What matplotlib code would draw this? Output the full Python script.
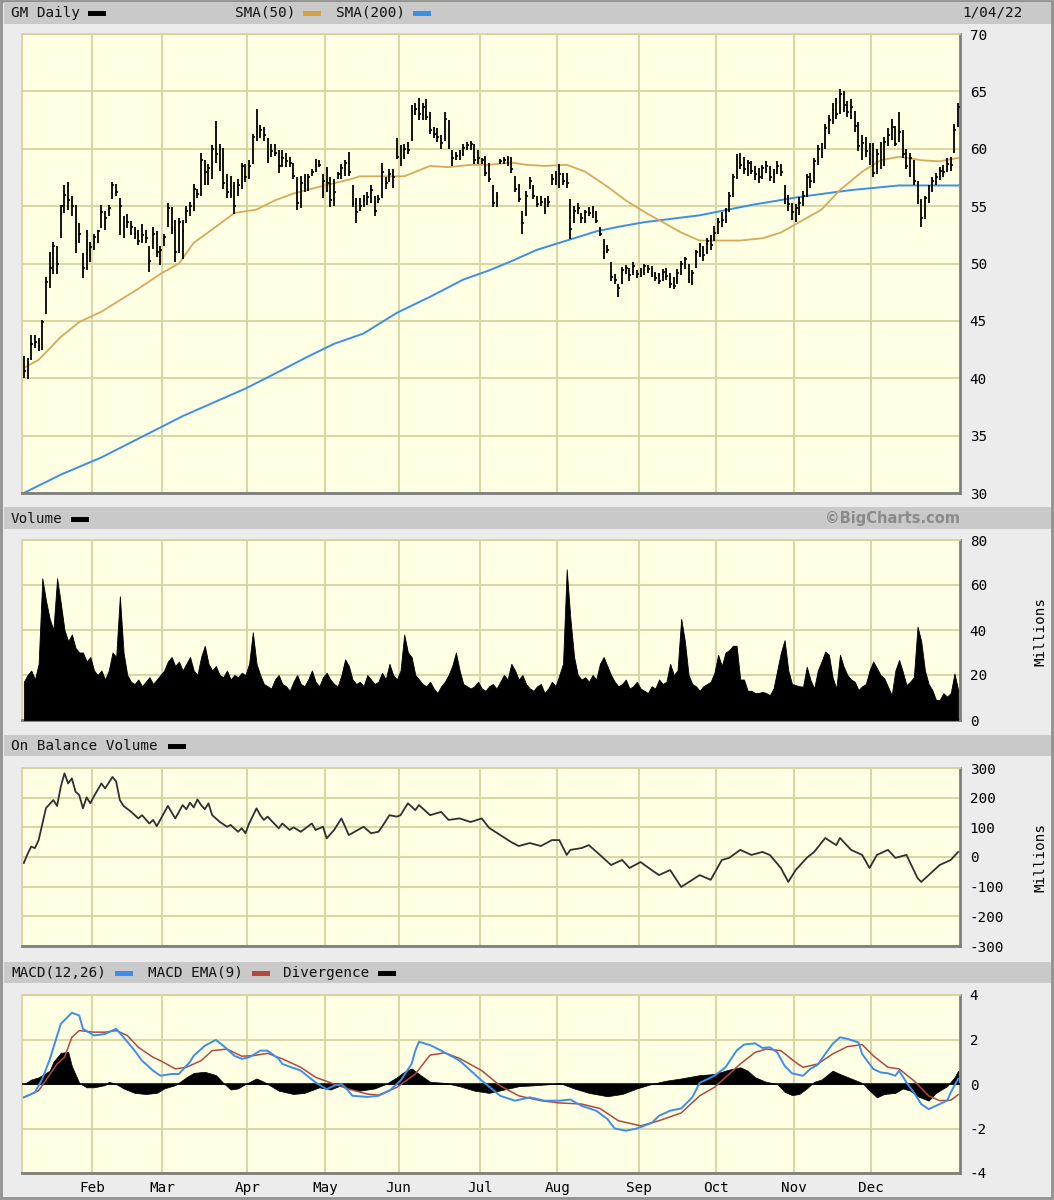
import numpy as np
import pandas as pd
import matplotlib.pyplot as plt
from matplotlib.patches import Rectangle

plt.rcParams['font.family'] = 'DejaVu Sans Mono'
plt.rcParams['axes.unicode_minus'] = False

# trading days shown: 1/04/21 .. 1/04/22
holidays = ["2021-01-18", "2021-02-15", "2021-04-02", "2021-05-31", "2021-07-05",
            "2021-09-06", "2021-11-25", "2021-12-24"]
dates = pd.bdate_range("2021-01-04", "2022-01-04", freq="C", holidays=holidays)

# daily high / low / close, one row per month (Jan21 ... Dec21 + Jan22)
highs = [
    41.9, 41.8, 43.8, 43.8, 43.5, 45.1, 48.8, 51.0, 51.9, 51.5, 55.1, 56.8, 57.1, 55.9, 55.1, 53.5, 50.9, 52.9, 51.9,
    52.6, 52.9, 55.1, 54.6, 55.1, 57.1, 56.9, 55.7, 54.1, 54.3, 53.7, 53.2, 52.9, 53.4, 52.9, 51.5, 53.2, 52.8, 51.5,
    52.6, 55.3, 54.9, 53.8, 54.0, 53.8, 55.0, 55.4, 56.9, 56.5, 59.6, 59.0, 58.7, 60.3, 62.4, 60.4, 60.1, 57.8, 57.6, 57.1, 57.4, 58.8, 58.7,
    59.0, 61.3, 63.5, 62.1, 61.9, 60.9, 60.4, 60.4, 59.9, 59.9, 59.6, 59.3, 58.8, 57.5, 57.6, 57.8, 57.8, 58.2, 59.1, 59.0, 57.8,
    58.4, 57.5, 57.4, 58.0, 58.7, 59.0, 59.7, 56.8, 55.7, 55.7, 56.0, 56.2, 56.8, 55.9, 56.0, 58.8, 57.5, 58.2, 58.2, 60.9,
    60.3, 60.4, 60.6, 63.8, 64.0, 64.4, 64.0, 64.3, 63.2, 61.9, 61.8, 61.2, 63.2, 62.5, 59.9, 59.7, 59.9, 60.4, 60.6, 60.7, 60.4, 59.9,
    59.2, 59.4, 58.8, 56.8, 56.2, 59.1, 59.3, 59.4, 59.3, 57.6, 56.9, 54.6, 56.3, 57.5, 56.8, 55.9, 55.9, 55.7, 55.9, 57.8, 58.1,
    58.7, 57.9, 57.9, 55.6, 55.0, 55.3, 54.4, 54.7, 54.9, 55.0, 54.6, 53.2, 52.1, 51.6, 50.1, 49.1, 48.2, 49.7, 49.9, 49.6, 50.1, 49.4,
    49.6, 50.0, 49.9, 49.8, 49.3, 49.2, 49.5, 49.6, 49.2, 48.8, 49.5, 50.2, 50.6, 50.0, 49.4, 51.2, 51.8, 51.5, 52.2, 52.5, 53.3,
    54.0, 54.5, 54.8, 56.2, 57.8, 59.5, 59.6, 59.3, 59.0, 58.9, 58.5, 58.3, 58.6, 58.9, 58.5, 58.2, 58.9, 58.7, 56.8, 56.0, 55.3,
    55.2, 55.8, 56.3, 57.8, 57.9, 59.2, 60.3, 60.5, 62.2, 62.9, 64.0, 64.4, 65.2, 65.0, 64.2, 64.3, 63.3, 62.3, 61.2, 61.0, 60.5,
    60.5, 60.0, 60.6, 61.0, 61.8, 62.6, 62.0, 63.2, 61.6, 60.0, 59.6, 59.0, 57.2, 55.6, 55.9, 56.8, 57.5, 57.9, 58.4, 58.6, 59.2, 59.3,
    62.2, 64.0,
]
lows = [
    40.0, 39.9, 41.6, 42.6, 42.4, 42.5, 45.6, 47.9, 49.1, 49.1, 52.2, 54.4, 54.7, 54.1, 50.9, 51.8, 48.7, 49.4, 50.1,
    51.2, 51.8, 53.1, 52.9, 54.1, 55.6, 55.9, 52.5, 52.2, 53.1, 52.5, 52.1, 51.6, 51.8, 51.8, 49.3, 51.3, 50.6, 49.9,
    51.5, 53.2, 52.6, 50.1, 50.9, 50.4, 53.5, 54.1, 54.6, 55.7, 55.9, 56.8, 56.8, 57.4, 58.8, 58.1, 56.5, 55.7, 55.7, 54.3, 55.9, 56.5, 57.1,
    57.4, 58.7, 60.7, 60.9, 60.7, 58.8, 59.3, 59.4, 57.9, 58.4, 58.4, 58.4, 57.4, 54.7, 54.8, 56.2, 56.3, 57.6, 58.0, 58.4, 55.7,
    56.2, 54.9, 55.0, 57.4, 57.4, 57.6, 57.6, 54.9, 53.5, 54.6, 54.9, 55.1, 55.3, 54.1, 55.3, 55.7, 56.5, 57.1, 56.6, 59.1,
    58.5, 59.1, 59.5, 60.7, 62.9, 62.5, 62.5, 62.5, 61.3, 60.9, 60.6, 60.0, 60.7, 60.0, 58.5, 59.0, 59.0, 59.4, 59.9, 59.9, 58.7, 58.7,
    58.7, 57.6, 57.1, 54.9, 54.9, 58.7, 58.7, 58.5, 57.9, 56.2, 55.4, 52.6, 54.1, 56.5, 55.6, 54.9, 55.0, 54.3, 54.9, 56.8, 56.8,
    56.6, 56.8, 56.6, 52.1, 53.5, 54.3, 53.5, 53.5, 54.1, 54.0, 53.5, 52.4, 50.4, 50.9, 48.5, 48.2, 47.1, 48.2, 49.1, 48.5, 49.0, 48.7,
    48.8, 49.0, 49.2, 48.8, 48.5, 48.2, 48.5, 48.6, 47.9, 47.8, 48.2, 49.0, 49.5, 48.3, 48.1, 49.6, 50.6, 50.2, 50.8, 51.2, 52.0,
    52.6, 53.2, 53.5, 54.5, 55.8, 57.4, 58.2, 57.8, 57.6, 57.8, 57.3, 57.0, 57.4, 57.9, 57.2, 57.0, 57.8, 57.6, 55.2, 54.6, 53.8,
    53.6, 54.2, 55.0, 55.8, 56.6, 57.0, 58.6, 59.2, 60.0, 61.3, 62.2, 62.6, 63.0, 63.2, 62.8, 62.6, 61.5, 59.8, 59.0, 59.3, 58.6,
    57.5, 57.8, 58.2, 58.5, 60.2, 60.8, 60.2, 60.6, 59.2, 58.2, 57.5, 56.8, 55.2, 53.2, 53.9, 55.3, 56.2, 56.8, 57.3, 57.5, 58.0, 58.1,
    59.6, 61.9,
]
closes = [
    40.6, 41.2, 43.0, 43.2, 42.8, 44.9, 48.4, 49.6, 51.5, 50.0, 55.0, 56.0, 55.5, 55.0, 52.0, 52.6, 49.6, 51.0, 51.4,
    52.3, 52.8, 54.5, 54.0, 54.8, 56.8, 56.2, 55.0, 53.3, 53.6, 53.2, 52.6, 52.0, 52.5, 52.2, 50.2, 52.6, 51.0, 51.2,
    52.3, 54.8, 53.0, 51.0, 53.6, 52.8, 54.6, 55.0, 56.5, 56.1, 59.0, 58.0, 58.3, 60.0, 59.5, 60.0, 57.0, 56.2, 56.0, 55.0, 56.8, 58.5, 57.5,
    58.5, 61.0, 61.5, 61.6, 61.2, 59.2, 59.8, 59.6, 58.5, 59.2, 58.9, 58.8, 57.6, 55.3, 57.0, 56.8, 57.5, 58.0, 58.8, 58.6, 57.2,
    57.0, 55.5, 56.2, 57.8, 58.3, 58.8, 58.0, 55.2, 54.5, 55.0, 55.6, 55.8, 56.4, 54.6, 55.6, 58.0, 57.0, 57.8, 57.5, 59.3,
    59.9, 60.0, 59.9, 63.3, 63.5, 63.0, 63.6, 62.8, 61.6, 61.3, 61.0, 60.5, 62.6, 60.2, 59.2, 59.4, 59.6, 60.1, 60.3, 60.4, 59.0, 59.2,
    59.0, 57.9, 57.4, 55.3, 55.8, 58.9, 59.0, 59.1, 58.2, 56.5, 55.6, 53.5, 55.9, 57.2, 55.9, 55.2, 55.4, 54.6, 55.4, 57.4, 57.6,
    57.8, 57.2, 57.0, 53.0, 54.6, 54.8, 54.0, 54.5, 54.4, 54.6, 53.7, 52.6, 50.6, 51.2, 48.8, 48.6, 47.9, 49.4, 49.6, 49.0, 49.8, 49.1,
    49.3, 49.8, 49.5, 49.0, 48.7, 48.5, 49.3, 48.9, 48.2, 48.0, 49.2, 50.0, 50.4, 48.6, 49.2, 51.0, 51.5, 50.7, 52.0, 51.6, 52.7,
    53.6, 53.8, 54.6, 55.9, 57.5, 59.0, 58.6, 58.2, 58.8, 58.1, 57.8, 57.5, 58.3, 58.5, 57.5, 57.8, 58.5, 58.0, 55.7, 55.2, 54.5,
    54.8, 55.3, 55.9, 57.5, 57.2, 58.9, 60.0, 59.6, 61.8, 62.5, 63.4, 63.0, 64.8, 63.8, 63.2, 63.6, 62.0, 60.2, 60.5, 59.8, 59.0,
    57.9, 59.5, 58.7, 60.6, 61.2, 61.9, 60.4, 61.5, 59.5, 58.5, 59.2, 57.2, 55.9, 54.0, 55.7, 56.5, 57.2, 57.5, 58.1, 58.0, 58.7, 58.6,
    61.6, 63.6,
]

# daily volume, millions
volume = [
    17, 20, 22, 18, 25, 63, 53, 45, 40, 63, 52, 40, 35, 38, 32, 30, 30, 26, 28, 22,
    20, 22, 18, 22, 30, 28, 55, 30, 20, 17, 16, 18, 15, 17, 19, 16, 18, 20, 22, 26,
    28, 24, 26, 22, 25, 28, 22, 20, 28, 33, 25, 22, 24, 20, 19, 22, 18, 20, 19, 21,
    20, 25, 39, 25, 20, 16, 15, 14, 18, 20, 16, 15, 13, 17, 20, 16, 15, 18, 22, 17,
    15, 19, 21, 18, 16, 15, 20, 27, 24, 18, 16, 17, 15, 20, 18, 16, 17, 21, 18, 25,
    20, 18, 22, 38, 30, 28, 20, 18, 16, 15, 17, 14, 12, 15, 17, 20, 24, 30, 22, 16,
    15, 14, 15, 17, 14, 13, 15, 16, 14, 17, 20, 18, 25, 22, 18, 20, 16, 14, 13, 15,
    16, 12, 14, 17, 15, 20, 25, 67, 45, 28, 20, 18, 19, 17, 20, 18, 25, 28, 24, 20,
    17, 15, 16, 18, 14, 15, 17, 14, 13, 12, 15, 14, 18, 16, 17, 25, 20, 22, 45, 35,
    20, 16, 15, 13, 15, 16, 17, 21, 29, 24, 30, 31, 33, 33, 18, 18, 13, 13, 12, 12,
    12.5, 12, 11, 14, 22, 30, 35.5, 22, 16, 15.5, 15, 14.8, 23.7, 17.8, 14, 22, 26, 30.4, 29, 19,
    14, 29, 23.7, 20, 18, 17, 13.3, 15, 16, 22, 26, 23, 20, 18.5, 14.8, 11, 22, 26.7, 21.5, 15.5,
    17, 19, 41.5, 35, 22, 16, 13.3, 8.9, 8.9, 11.9, 10.4, 12, 20.7, 13.3,
]

# moving averages (day index, value)
sma50_day = [0, 4, 10, 15, 21, 26, 31, 37, 42, 46, 52, 57, 63, 68, 73, 79, 84, 88, 91, 103, 110, 115,
             121, 126, 132, 136, 141, 147, 152, 158, 163, 168, 178, 183, 189, 194, 200, 205, 210, 216,
             221, 227, 232, 237, 243, 248, 253]
sma50_val = [40.9, 41.6, 43.6, 44.9, 45.8, 46.8, 47.8, 49.1, 50.0, 51.8, 53.2, 54.4, 54.7, 55.5, 56.1,
             56.6, 57.0, 57.3, 57.6, 57.6, 58.5, 58.4, 58.6, 58.6, 58.8, 58.6, 58.5, 58.6, 58.0, 56.7,
             55.5, 54.5, 52.7, 52.0, 52.0, 52.0, 52.2, 52.7, 53.6, 54.7, 56.4, 58.0, 59.0, 59.3, 59.0,
             58.9, 59.2]
sma200_day = [0, 10, 21, 32, 43, 60, 68, 77, 84, 92, 101, 110, 119, 126, 132, 139, 147, 155, 161, 168,
              183, 197, 210, 224, 237, 253]
sma200_val = [30.0, 31.6, 33.1, 34.9, 36.7, 39.1, 40.4, 41.9, 43.0, 43.9, 45.7, 47.1, 48.6, 49.4, 50.2,
              51.2, 52.0, 52.8, 53.2, 53.6, 54.2, 55.1, 55.8, 56.4, 56.8, 56.8]

# on balance volume, millions
obv_day = [0, 1, 2, 3, 4, 6, 8, 9, 10, 11, 12, 13, 14, 15, 16, 17, 18, 19, 21, 22, 24, 25, 26, 27, 29,
           31, 32, 34, 35, 36, 39, 41, 43, 44, 45, 46, 47, 48, 49, 50, 51, 53, 55, 56, 58, 59, 60, 61,
           63, 64, 65, 66, 69, 70, 72, 73, 75, 78, 79, 81, 82, 84, 86, 88, 92, 94, 96, 97, 99, 101, 102,
           104, 106, 107, 110, 113, 115, 118, 121, 124, 126, 129, 132, 134, 137, 140, 143, 145, 147, 148,
           151, 153, 156, 159, 162, 164, 167, 170, 172, 175, 178, 181, 183, 186, 189, 191, 194, 197, 200,
           202, 205, 207, 209, 212, 214, 217, 220, 221, 224, 227, 229, 231, 234, 236, 239, 242, 243, 246,
           248, 251, 253]
obv_val = [-20, 10, 35, 30, 57, 165, 192, 172, 237, 282, 248, 265, 220, 209, 164, 201, 181, 205, 248,
           231, 270, 254, 192, 172, 153, 130, 141, 113, 125, 104, 172, 130, 175, 161, 183, 167, 194, 175,
           161, 181, 141, 119, 102, 108, 85, 97, 80, 113, 164, 141, 125, 136, 97, 113, 91, 100, 85, 113,
           91, 102, 63, 91, 130, 74, 102, 80, 85, 102, 141, 136, 141, 181, 158, 175, 141, 152, 125, 130,
           118, 130, 98, 74, 50, 37, 47, 37, 57, 57, 7, 24, 30, 40, 7, -27, -10, -37, -17, -44, -61, -44,
           -101, -77, -61, -77, -10, -3, 24, 7, 17, 7, -37, -84, -44, -3, 17, 64, 40, 64, 24, 7, -37, 7,
           24, -3, 7, -71, -84, -50, -27, -10, 17]

# MACD(12,26), EMA(9) signal and divergence
macd_day = [0, 3, 5, 7, 10, 13, 15, 16, 19, 22, 25, 27, 30, 32, 35, 37, 40, 42, 45, 46, 49, 52, 54, 57,
            59, 61, 64, 66, 69, 70, 75, 79, 82, 84, 86, 87, 89, 93, 96, 99, 102, 103, 105, 106, 107, 110,
            113, 118, 124, 129, 133, 137, 141, 145, 148, 151, 155, 158, 160, 163, 166, 170, 172, 175, 178,
            181, 183, 187, 190, 193, 195, 198, 200, 202, 204, 206, 208, 211, 213, 215, 217, 219, 221, 223,
            226, 227, 230, 232, 234, 236, 237, 239, 241, 243, 245, 247, 250, 251, 253]
macd_val = [-0.6, -0.38, 0.23, 1.1, 2.7, 3.2, 3.08, 2.48, 2.18, 2.25, 2.48, 2.1, 1.5, 1.05, 0.6, 0.37,
            0.45, 0.45, 1.0, 1.27, 1.72, 1.98, 1.72, 1.27, 1.13, 1.2, 1.5, 1.5, 1.13, 0.9, 0.6, 0.07,
            -0.23, -0.08, 0.0, -0.15, -0.53, -0.58, -0.53, -0.3, 0.15, 0.4, 0.9, 1.5, 1.9, 1.75, 1.5,
            1.05, 0.15, -0.53, -0.75, -0.6, -0.75, -0.75, -0.7, -0.98, -1.2, -1.57, -2.0, -2.1, -2.0,
            -1.75, -1.43, -1.2, -1.1, -0.6, 0.05, 0.37, 0.75, 1.5, 1.77, 1.83, 1.62, 1.65, 1.42, 0.82,
            0.48, 0.37, 0.68, 0.87, 1.35, 1.8, 2.1, 2.03, 1.87, 1.35, 0.68, 0.52, 0.48, 0.37, 0.6, 0.07,
            -0.38, -0.9, -1.13, -0.98, -0.75, -0.38, 0.23]
signal_day = [0, 4, 9, 11, 13, 15, 19, 22, 25, 28, 31, 35, 37, 41, 44, 48, 51, 55, 59, 62, 66, 70, 75,
              79, 84, 88, 93, 96, 101, 106, 110, 114, 118, 124, 129, 134, 140, 145, 151, 156, 161, 167,
              172, 178, 183, 187, 190, 194, 198, 201, 205, 209, 211, 215, 219, 223, 227, 230, 234, 237,
              241, 245, 248, 251, 253]
signal_val = [-0.6, -0.3, 0.9, 1.2, 2.1, 2.4, 2.33, 2.33, 2.4, 2.18, 1.65, 1.2, 1.05, 0.68, 0.75, 1.05,
              1.5, 1.57, 1.25, 1.27, 1.38, 1.13, 0.75, 0.3, 0.0, -0.23, -0.45, -0.5, -0.15, 0.45, 1.3,
              1.4, 1.15, 0.6, -0.08, -0.53, -0.75, -0.85, -0.9, -1.1, -1.65, -1.88, -1.65, -1.3, -0.53,
              -0.15, 0.3, 0.9, 1.42, 1.57, 1.5, 0.97, 0.75, 0.9, 1.35, 1.68, 1.77, 1.27, 0.75, 0.68, 0.15,
              -0.53, -0.75, -0.73, -0.48]
div_day = [0, 2, 4, 7, 8, 10, 12, 13, 15, 17, 19, 22, 23, 25, 27, 30, 33, 36, 38, 41, 44, 46, 49, 52,
           54, 56, 58, 60, 63, 65, 67, 69, 73, 76, 80, 83, 86, 88, 91, 95, 98, 101, 103, 105, 107, 110,
           114, 118, 122, 126, 130, 134, 139, 143, 145, 149, 153, 158, 162, 166, 170, 174, 178, 183, 187,
           191, 194, 196, 198, 201, 204, 206, 208, 210, 212, 214, 216, 219, 221, 224, 227, 229, 231, 233,
           236, 238, 240, 242, 245, 247, 250, 252, 253]
div_val = [0, 0.2, 0.3, 0.6, 1.0, 1.4, 1.45, 0.8, 0.05, -0.15, -0.15, -0.05, 0.1, 0.0, -0.2, -0.4,
           -0.45, -0.4, -0.2, -0.05, 0.3, 0.5, 0.55, 0.4, 0.05, -0.25, -0.2, 0.0, 0.25, 0.1, -0.1, -0.3,
           -0.45, -0.4, -0.15, -0.25, -0.05, -0.2, -0.3, -0.2, 0.0, 0.3, 0.55, 0.7, 0.45, 0.1, 0.05, -0.1,
           -0.3, -0.4, -0.25, -0.1, -0.05, 0.0, 0.05, -0.2, -0.4, -0.55, -0.45, -0.2, 0.0, 0.15, 0.25,
           0.4, 0.45, 0.65, 0.75, 0.6, 0.3, 0.1, 0.0, -0.35, -0.5, -0.45, -0.2, 0.1, 0.2, 0.6, 0.45, 0.25,
           0.05, -0.3, -0.6, -0.45, -0.4, -0.2, -0.3, -0.55, -0.75, -0.4, -0.1, 0.3, 0.6]

month_names = ["Feb", "Mar", "Apr", "May", "Jun", "Jul", "Aug", "Sep", "Oct", "Nov", "Dec"]

# ---- styling ----
W, H = 1054, 1200
fig_bg = "#ECECEC"
band = "#C9C9C9"
plot_bg = "#FFFFE4"
grid_c = "#D6D49E"
edge_c = "#7E7E7E"
tan_c = "#D8A95A"
blue_c = "#3B8EEC"
red_c = "#B0493E"
fs = 10.3

idx = np.arange(len(dates))
month_pos = [int(np.argmax((dates.month == m) & (dates.year == 2021))) for m in range(2, 13)]

fig = plt.figure(figsize=(W / 100, H / 100), dpi=100, facecolor=fig_bg)

bg = fig.add_axes([0, 0, 1, 1])
bg.set_xlim(0, W)
bg.set_ylim(H, 0)
bg.axis("off")
bg.add_patch(Rectangle((1, 1), W - 3, H - 3, fill=False, edgecolor="#909090", lw=2))

for y0, y1 in [(2, 24), (507, 529), (735, 756), (962, 983)]:
    bg.add_patch(Rectangle((4, y0), W - 7, y1 - y0, color=band, lw=0))

def header_text(x, y, s, **kw):
    bg.text(x, y, s, fontsize=fs, va="center", color="#111111", **kw)

def swatch(x, y, c):
    bg.add_patch(Rectangle((x, y - 2.5), 18, 5, color=c, lw=0))

header_text(11, 13, "GM Daily")
swatch(88, 13, "black")
header_text(235, 13, "SMA(50)")
swatch(303, 13, "#D4A040")
header_text(336, 13, "SMA(200)")
swatch(413, 13, blue_c)
header_text(1023, 13, "1/04/22", ha="right")

header_text(11, 519, "Volume")
swatch(71, 519, "black")
bg.text(960, 519, "\u00a9BigCharts.com", fontsize=10.5, fontweight="bold", family="DejaVu Sans",
        color="#8A8A8A", ha="right", va="center")

header_text(11, 746, "On Balance Volume")
swatch(168, 746, "black")

header_text(11, 973, "MACD(12,26)")
swatch(115, 973, blue_c)
header_text(148, 973, "MACD EMA(9)")
swatch(252, 973, red_c)
header_text(283, 973, "Divergence")
swatch(378, 973, "black")

bg.text(1040, 632, "Millions", rotation=90, fontsize=fs, ha="center", va="center")
bg.text(1040, 857, "Millions", rotation=90, fontsize=fs, ha="center", va="center")


def panel(x0, y0, x1, y1, ylim, yticks, xlabels=False):
    ax = fig.add_axes([x0 / W, 1 - y1 / H, (x1 - x0) / W, (y1 - y0) / H])
    ax.set_facecolor(plot_bg)
    ax.set_xlim(-0.5, len(dates) - 0.5)
    ax.set_ylim(*ylim)
    ax.set_yticks(yticks)
    ax.set_yticklabels([str(t) for t in yticks])
    ax.yaxis.tick_right()
    ax.set_xticks([p - 0.5 for p in month_pos])
    if xlabels:
        ax.set_xticklabels(month_names)
    else:
        ax.set_xticklabels([])
    ax.tick_params(length=0, labelsize=fs, pad=7)
    ax.tick_params(axis="x", pad=6)
    ax.grid(True, color=grid_c, lw=1.3)
    ax.set_axisbelow(True)
    for s in ["left", "top"]:
        ax.spines[s].set_color(grid_c)
        ax.spines[s].set_linewidth(1.3)
    for s in ["right", "bottom"]:
        ax.spines[s].set_color(edge_c)
        ax.spines[s].set_linewidth(2)
    return ax


# price
ax1 = panel(22, 34, 960, 493, (30, 70), list(range(30, 71, 5)))
ax1.plot(sma200_day, sma200_val, color=blue_c, lw=1.4, zorder=2)
ax1.plot(sma50_day, sma50_val, color=tan_c, lw=1.3, zorder=2)
ax1.vlines(idx, lows, highs, color="black", lw=1.3, zorder=3)
ax1.hlines(closes, idx, idx + 0.5, color="black", lw=1.2, zorder=3)

# volume
ax2 = panel(22, 540, 960, 720, (0, 80), list(range(0, 81, 20)))
ax2.fill_between(idx, volume, 0, color="black", lw=0.6, zorder=3)

# on balance volume
ax3 = panel(22, 768, 960, 946, (-300, 300), list(range(-300, 301, 100)))
ax3.plot(obv_day, obv_val, color="#303030", lw=1.3, zorder=3)

# MACD
ax4 = panel(22, 995, 960, 1173, (-4, 4), list(range(-4, 5, 2)), xlabels=True)
ax4.fill_between(div_day, div_val, 0, color="black", lw=0.5, zorder=3)
ax4.axhline(0, color="black", lw=1.1, zorder=3)
ax4.plot(signal_day, signal_val, color=red_c, lw=1.1, zorder=4)
ax4.plot(macd_day, macd_val, color=blue_c, lw=1.4, zorder=5)

fig.savefig("out.png", dpi=100, facecolor=fig_bg)
